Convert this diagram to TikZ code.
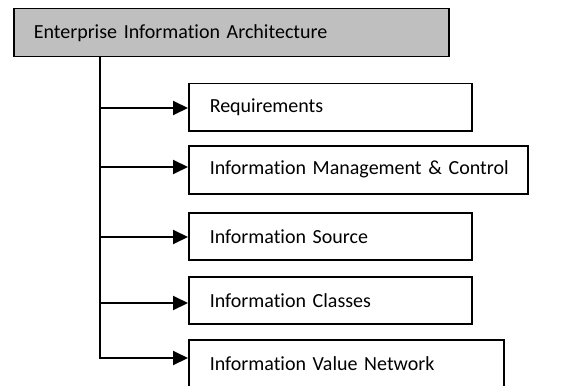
\documentclass[tikz,border=0pt]{standalone}
\usepackage{fontspec}
\setmainfont{Carlito}[Ligatures=NoCommon]
\usetikzlibrary{arrows.meta}
\begin{document}
\begin{tikzpicture}[x=1pt,y=-1pt,
  box/.style={draw=black,line width=1.5pt,anchor=north west,inner xsep=0pt,inner ysep=0pt,
    font=\fontsize{20}{24}\selectfont,align=left},
  conn/.style={line width=2pt,-{Triangle[length=15pt,width=14pt]}},
  spine/.style={line width=2pt}]
\useasboundingbox (0,0) rectangle (572,385);
\node[box,fill={rgb,255:red,191;green,191;blue,191},minimum width=435pt,minimum height=48pt,text width=435pt] (top) at (13,8) {\hspace*{20pt}Enterprise Information Architecture};
\node[box,minimum width=283pt,minimum height=47pt,text width=283pt] (req) at (188,83) {\hspace*{21pt}Requirements};
\node[box,minimum width=339pt,minimum height=48pt,text width=339pt] (mgmt) at (188,145) {\hspace*{21pt}Information Management \& Control};
\node[box,minimum width=283pt,minimum height=47pt,text width=283pt] (src) at (188,212) {\hspace*{21pt}Information Source};
\node[box,minimum width=283pt,minimum height=47pt,text width=283pt] (cls) at (188,276) {\hspace*{21pt}Information Classes};
\node[box,minimum width=315pt,minimum height=48pt,text width=315pt] (val) at (188,339) {\hspace*{21pt}Information Value Network};
\coordinate (s0) at (100,56);
\coordinate (s1) at (100,108);
\coordinate (s2) at (100,167);
\coordinate (s3) at (100,237);
\coordinate (s4) at (100,303);
\coordinate (s5) at (100,358);
\draw[spine] (s0) -- ([yshift=-1pt]s5);
\draw[conn] ([xshift=-1pt]s1) -- (s1 -| req.west);
\draw[conn] ([xshift=-1pt]s2) -- (s2 -| mgmt.west);
\draw[conn] ([xshift=-1pt]s3) -- (s3 -| src.west);
\draw[conn] ([xshift=-1pt]s4) -- (s4 -| cls.west);
\draw[conn] ([xshift=-1pt]s5) -- (s5 -| val.west);
\end{tikzpicture}
\end{document}
